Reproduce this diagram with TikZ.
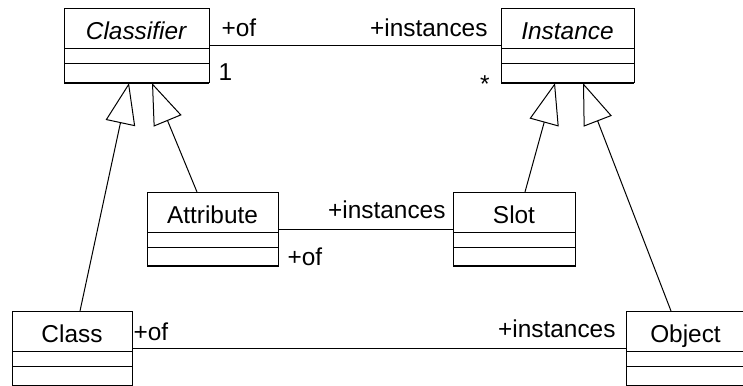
\documentclass[tikz,border=0pt]{standalone}
\usepackage{fontspec}
\setmainfont{Liberation Sans}
\usetikzlibrary{positioning,arrows.meta,calc}

\tikzset{
  umlname/.style={draw, outer sep=0pt, inner sep=0pt, minimum height=20pt,
    text height=15.5pt, text depth=4.5pt},
  umlattr/.style={draw, outer sep=0pt, inner sep=0pt, minimum height=7.5pt},
  umlops/.style={draw, outer sep=0pt, inner sep=0pt, minimum height=9.5pt},
  inherit/.style={-{Triangle[open,length=20.5pt,width=15pt]}},
  rolelabel/.style={inner sep=0pt}
}

\begin{document}
\begin{tikzpicture}
      [x=0.5pt, y=-0.5pt, line width=0.5pt, font=\fontsize{12.2}{14}\selectfont]
      \useasboundingbox (0,0) rectangle (743,385);

      % class boxes: name, attributes, operations
      \foreach \n/\x/\y/\w/\t in {clsf/136.5/29/145/\textit{Classifier},
          inst/567.5/29/133/\textit{Instance},
          attr/212.5/212/131/Attribute,
          slot/514/212/122/Slot,
          class/72/331/120/Class,
          obj/685.5/331/119/Object} {
        \node[umlname, minimum width=\w*0.5pt] (\n) at (\x,\y) {\t};
        \node[umlattr, minimum width=\w*0.5pt, below=0pt of \n] (\n-attr) {};
        \node[umlops, minimum width=\w*0.5pt, below=0pt of \n-attr] (\n-ops) {};
      }
      \foreach \n in {clsf,inst,attr,slot} {
        \draw[line width=1.2pt] (\n-ops.south west) -- (\n-ops.south east);
      }

      % associations
      \draw ($(clsf.south east)+(0,-3)$) -- ($(inst.south west)+(0,-3)$)
        node[rolelabel, pos=0, anchor=south west, xshift=6pt, yshift=4.5pt] {+of}
        node[rolelabel, pos=0, anchor=north west, xshift=4.5pt, yshift=-8.5pt] {1}
        node[rolelabel, pos=1, anchor=south east, xshift=-6.5pt, yshift=4.5pt] {+instances}
        node[rolelabel, pos=1, anchor=north east, xshift=-5.5pt, yshift=-14.5pt] {*};
      \draw ($(attr.south east)+(0,-3)$) -- ($(slot.south west)+(0,-3)$)
        node[rolelabel, pos=1, anchor=south east, xshift=-3.5pt, yshift=5pt] {+instances}
        node[rolelabel, pos=0, anchor=north west, xshift=4.5pt, yshift=-9pt] {+of};
      \draw ($(class.south east)+(0,-3)$) -- ($(obj.south west)+(0,-3)$)
        node[rolelabel, pos=0, anchor=south west, xshift=0.5pt, yshift=3.5pt] {+of}
        node[rolelabel, pos=1, anchor=south east, xshift=-5pt, yshift=5pt] {+instances};

      % generalizations
      \draw[inherit] ($(class.north)+(8,0)$) -- ($(clsf-ops.south)+(-7.5,0)$);
      \draw[inherit] ($(attr.north)+(-15.5,0)$) -- ($(clsf-ops.south)+(15.5,0)$);
      \draw[inherit] ($(slot.north)+(11,0)$) -- ($(inst-ops.south)+(-12.5,0)$);
      \draw[inherit] ($(obj.north)+(-14.5,0)$) -- ($(inst-ops.south)+(15.5,0)$);
    \end{tikzpicture}
\end{document}
